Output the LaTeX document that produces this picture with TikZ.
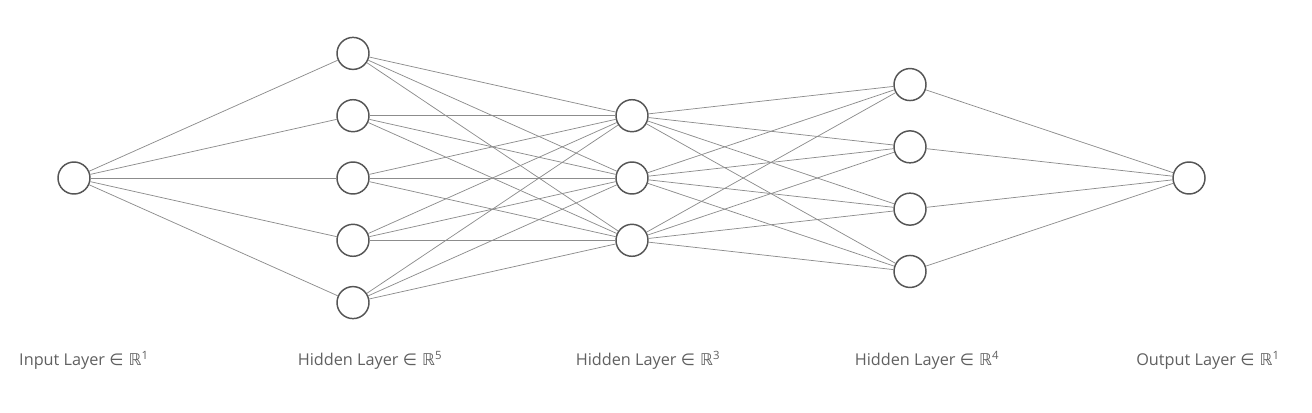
\documentclass[tikz,border=0pt]{standalone}
\usepackage{fontspec}
\setmainfont{Open Sans}
\newfontfamily\symbolfont{DejaVu Sans}
\usepackage{tikz}
\usetikzlibrary{positioning}
\definecolor{NeuronGray}{HTML}{555555}
\definecolor{EdgeGray}{HTML}{8C8C8C}
\definecolor{LabelGray}{HTML}{606060}
\newcommand{\inspace}[1]{{\symbolfont ∈ ℝ}\textsuperscript{#1}}

\begin{document}
\begin{tikzpicture}[
    x=0.75pt, y=-0.75pt,
    neuron/.style = {
        circle, draw=NeuronGray, line width=1.1pt,
        fill=white, minimum size=24pt, inner sep=0pt
    },
    synapse/.style = {draw=EdgeGray, line width=0.55pt},
    layerlabel/.style = {
        font=\fontsize{12.2}{14}\selectfont, text=LabelGray,
        anchor=center, inner sep=0pt
    }
]
\useasboundingbox (0,0) rectangle (1312,412);

% ===== NEURONS =====
\node[neuron] (in1) at (74,178) {};
\foreach \i in {1,...,5}
    \node[neuron] (ha\i) at (353,{178+(\i-3)*62.3}) {};
\foreach \i in {1,...,3}
    \node[neuron] (hb\i) at (632,{178+(\i-2)*62.3}) {};
\foreach \i in {1,...,4}
    \node[neuron] (hc\i) at (910,{178+(\i-2.5)*62.3}) {};
\node[neuron] (out1) at (1189,178) {};

% ===== SYNAPSES =====
\foreach \i in {1,...,5}
    \draw[synapse] (in1) -- (ha\i);
\foreach \i in {1,...,5}
    \foreach \j in {1,...,3}
        \draw[synapse] (ha\i) -- (hb\j);
\foreach \i in {1,...,3}
    \foreach \j in {1,...,4}
        \draw[synapse] (hb\i) -- (hc\j);
\foreach \i in {1,...,4}
    \draw[synapse] (hc\i) -- (out1);

% ===== LABELS =====
\node[layerlabel] (lin)  at (84,360)   {Input Layer \inspace{1}};
\node[layerlabel] (lha)  at (370,360)  {Hidden Layer \inspace{5}};
\node[layerlabel] (lhb)  at (648,360)  {Hidden Layer \inspace{3}};
\node[layerlabel] (lhc)  at (927,360)  {Hidden Layer \inspace{4}};
\node[layerlabel] (lout) at (1208,360) {Output Layer \inspace{1}};
\end{tikzpicture}
\end{document}
